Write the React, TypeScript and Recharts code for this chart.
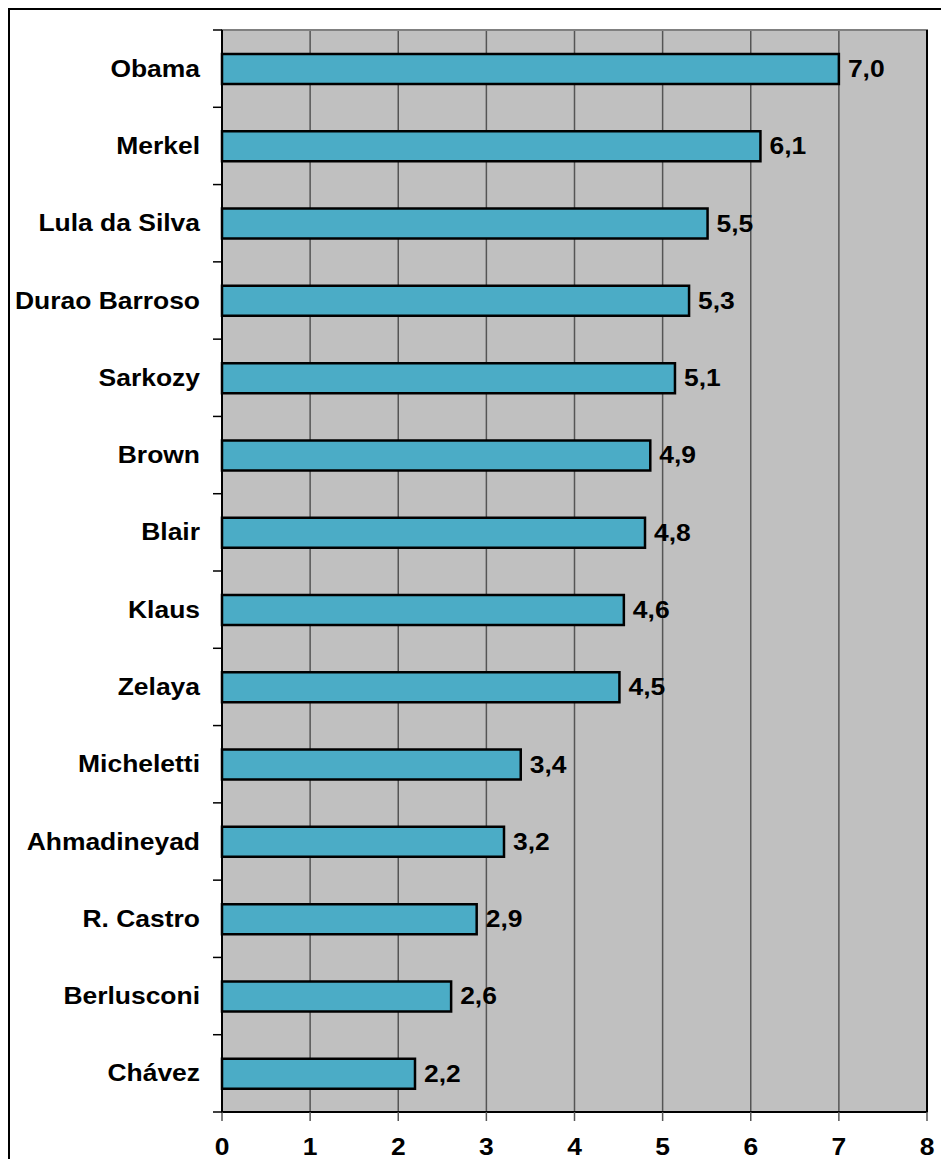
import React from 'react';
import {
  BarChart,
  Bar,
  XAxis,
  YAxis,
  CartesianGrid,
  ReferenceArea,
  ReferenceLine,
  LabelList,
} from 'recharts';

const names = [
  'Obama',
  'Merkel',
  'Lula da Silva',
  'Durao Barroso',
  'Sarkozy',
  'Brown',
  'Blair',
  'Klaus',
  'Zelaya',
  'Micheletti',
  'Ahmadineyad',
  'R. Castro',
  'Berlusconi',
  'Chávez',
];

const scores = [7.0, 6.11, 5.51, 5.3, 5.14, 4.86, 4.8, 4.56, 4.51, 3.39, 3.2, 2.89, 2.6, 2.19];

const xTicks = [0, 1, 2, 3, 4, 5, 6, 7, 8];

const data = names.map((name, i) => ({ name, score: scores[i] }));

const FRAME_W = 941;
const CHART_W = 935;
const CHART_H = 1159;
const M_TOP = 22;
const M_RIGHT = 16;
const Y_W = 214;
const X_H = 55;
const PLOT_H = CHART_H - M_TOP - X_H;

const FONT = '"Liberation Sans", Arial, sans-serif';
const STRETCH = 1.15;

const fmt = (v: number) => v.toFixed(1).replace('.', ',');

// category ticks sit on the band boundaries, labels in the middle
const NameTick = (props: any) => {
  const { x, y, payload, index } = props;
  const band = PLOT_H / names.length;
  return (
    <g>
      {index === 0 && (
        <line x1={x - 9} x2={x} y1={y - band / 2} y2={y - band / 2} stroke="#000" strokeWidth={1.5} />
      )}
      <line x1={x - 9} x2={x} y1={y + band / 2} y2={y + band / 2} stroke="#000" strokeWidth={1.5} />
      <text
        transform={`translate(${x - 22},${y + 8}) scale(${STRETCH},1)`}
        textAnchor="end"
        fontFamily={FONT}
        fontWeight="bold"
        fontSize={23}
        fill="#000"
      >
        {payload.value}
      </text>
    </g>
  );
};

const NumTick = (props: any) => {
  const { x, y, payload } = props;
  return (
    <text
      transform={`translate(${x},${y + 34}) scale(${STRETCH},1)`}
      textAnchor="middle"
      fontFamily={FONT}
      fontWeight="bold"
      fontSize={23}
      fill="#000"
    >
      {payload.value}
    </text>
  );
};

const ValueLabel = (props: any) => {
  const { x, y, width, height, value } = props;
  return (
    <text
      transform={`translate(${x + width + 9},${y + height / 2 + 8}) scale(${STRETCH},1)`}
      fontFamily={FONT}
      fontWeight="bold"
      fontSize={23}
      fill="#000"
    >
      {fmt(value)}
    </text>
  );
};

export default function App() {
  return (
    <div
      style={{
        position: 'relative',
        width: FRAME_W,
        height: CHART_H,
        marginBottom: -8,
        overflow: 'hidden',
      }}
    >
      <style>{'html,body{overflow:hidden}'}</style>
      <div
        style={{
          position: 'absolute',
          left: 0,
          top: 0,
          width: FRAME_W,
          height: CHART_H,
          borderTop: '2px solid #000',
          borderLeft: '2px solid #000',
          boxSizing: 'border-box',
        }}
      />
      <div style={{ position: 'absolute', left: 0, top: 0 }}>
        <BarChart
          width={CHART_W}
          height={CHART_H}
          data={data}
          layout="vertical"
          margin={{ top: M_TOP, right: M_RIGHT, left: 0, bottom: 0 }}
          barSize={30}
        >
          <CartesianGrid horizontal={false} stroke="#555" strokeWidth={1.5} fill="#C0C0C0" />
          <ReferenceArea x1={0} x2={8} fill="none" stroke="#808080" strokeWidth={2} fillOpacity={0} />
          <ReferenceLine x={8} stroke="#000" strokeWidth={2} />
          <XAxis
            type="number"
            domain={[0, 8]}
            ticks={xTicks}
            height={X_H}
            axisLine={{ stroke: '#000', strokeWidth: 2 }}
            tickLine={{ stroke: '#555', strokeWidth: 1.5 }}
            tickSize={9}
            tickMargin={0}
            tick={<NumTick />}
            interval={0}
          />
          <YAxis
            type="category"
            dataKey="name"
            width={Y_W}
            axisLine={{ stroke: '#000', strokeWidth: 2 }}
            tickLine={false}
            tickSize={0}
            tickMargin={0}
            tick={<NameTick />}
            interval={0}
          />
          <Bar dataKey="score" fill="#4BACC6" stroke="#000" strokeWidth={2.5} isAnimationActive={false}>
            <LabelList dataKey="score" content={<ValueLabel />} />
          </Bar>
        </BarChart>
      </div>
    </div>
  );
}
